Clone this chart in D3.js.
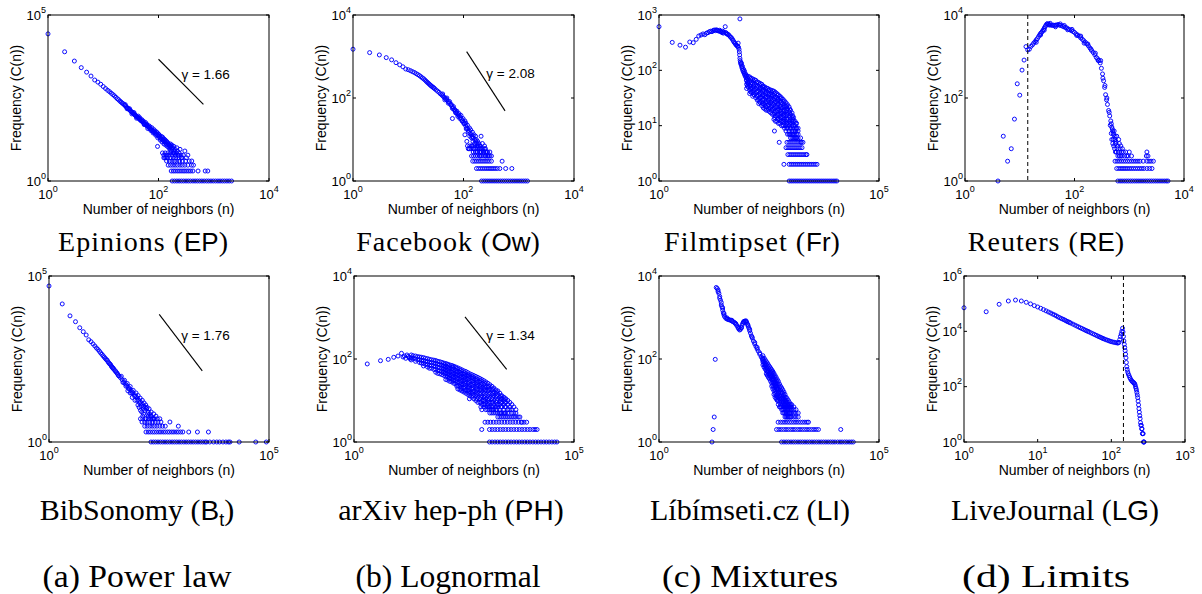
<!DOCTYPE html>
<html><head><meta charset="utf-8">
<script src="https://cdn.jsdelivr.net/npm/d3@7"></script>
<style>body{margin:0;background:#fff} svg{display:block}</style>
</head><body>
<svg id="chart" width="1202" height="594"></svg>
<script>
// ---------------- DATA (n = number of neighbors, C = frequency) ----------------
// Epinions (EP)
const epPts = [[1,27000],[2,7800],[3,4100],[4,2600],[5,1900],[6,1450],[7,1100],[8,950],[9,820],[10,700],[11,610],[12,540],[13,490],[14,440],[15,400],[16,365],[17,330],[18,300],[19,280],[20,255],[21,240],[22,222],[23,212],[24,196],[25,185],[26,172],[27,162],[28,154],[29,146],[30,138],[31,131],[32,124],[33,119],[34,113],[35,108],[36,104],[37,100],[38,95],[39,92],[40,88],[41,86],[42,82],[43,80],[44,77],[45,74],[46,72],[47,69],[48,67],[49,65],[50,63],[52,60],[54,56],[56,53],[58,51],[60,48],[62,46],[64,44],[66,42],[68,40],[70,38],[72,37],[75,35],[78,33],[81,31],[84,29],[87,28],[90,26],[94,25],[98,23],[102,22],[106,20],[110,19],[115,18],[120,17],[125,16],[130,15],[135,14],[140,13],[150,12],[160,11],[170,10],
[25,200],[27,150],[30,150],[33,105],[36,115],[40,78],[43,90],[46,80],[50,70],[53,64],[55,50],[58,58],[61,52],[64,38],[67,46],[70,43],[73,33],[76,40],[80,28],[83,35],[86,32],[89,24],[92,30],[95,28],[97,20],[100,26],[104,24],[108,17],[112,22],[116,15],[118,21],[122,19],[126,13],[128,18],[132,17],[136,12],[138,16],[142,15],[145,11],[148,14],[152,13],[155,10],[158,12],[162,9],[165,13],[168,11],[172,8],[175,12],[178,9],[182,10],[186,7],[190,11],[195,8],[200,9],[205,6],[210,7],[215,10],[220,8],[228,6],[235,7],[245,9],[255,6],[265,5],[280,6],[300,8],[320,5],[340,6],[360,4],[96,11],[125,5],[137,5],[400,4],[430,3]];
const epRows = [
  {c:1, n:[177,195,215,236,260,286,315,346,380,420,460,505,555,610,670,740,810,890,980,1080,1190,1300,1430,1570,1730,1900,2100]},
  {c:2, n:[170,185,200,218,236,256,278,300,326,354,384,420,520,700,780]},
  {c:3, n:[150,165,182,200,220,245,270,300,340,395]},
  {c:4, n:[140,158,175,195,215,240,270,310]},
  {c:5, n:[130,145,165,185,205,235,260]},
  {c:6, n:[125,140,155,175,200,225]},
  {c:7, n:[118,132,148,165,190]}
];
// Facebook (Ow)
const owPts = [[1,1500],[2,1240],[3,1090],[4,940],[5,830],[6,710],[7,630],[8,565],[9,500],[10,480],[11,455],[12,430],[13,410],[14,385],[15,365],[16,345],[17,325],[18,305],[19,290],[20,272],[21,255],[22,240],[23,228],[24,216],[25,205],[26,196],[27,188],[28,182],[29,175],[30,168],[32,156],[34,146],[36,137],[38,127],[40,120],[42,113],[44,106],[46,100],[48,95],[50,90],[53,82],[56,75],[59,68],[62,62],[65,57],[68,52],[71,48],[74,45],[77,42],[80,39],[84,37],[88,34],[92,31],[96,28],[100,26],[105,24],[110,21],[115,19],[120,18],[126,16],[132,14],[138,13],[144,12],[150,11],[158,10],[166,9],[175,8],[185,7],[195,6],[205,5],
[42,125],[46,90],[50,100],[53,75],[56,82],[60,70],[63,56],[66,62],[70,52],[72,44],[76,48],[79,36],[83,42],[86,32],[90,38],[94,28],[98,32],[102,24],[106,28],[110,25],[112,18],[118,22],[122,15],[128,19],[130,12],[135,17],[140,11],[145,15],[148,9],[155,13],[160,8],[165,12],[170,10],[180,9],[190,8],[200,7],[210,6],[220,8],[230,5],[240,6],[260,5],[280,4],[300,5],[320,4],[63,32],[106,13],[127,6],[208,12],[115,9],[140,7],[155,6],[175,5],[200,4],[250,4]];
const owRows = [
  {c:1, n:[212,232,253,276,301,328,358,390,425,464,506,552,602,656,716,781,852,930,1015,1107,1208,1318,1440]},
  {c:2, n:[172,188,205,223,243,265,289,315,343,374,408,455,580,750]},
  {c:3, n:[147,160,174,190,207,225,245,267,291,320,500]},
  {c:4, n:[140,152,166,181,197,215,234,255,278,300]},
  {c:5, n:[150,164,179,195,212,231,252,275]},
  {c:6, n:[122,136,150,166,183,202,224,250]},
  {c:7, n:[118,130,145,160,178,198,240]}
];
// Filmtipset (Fr)
const frPts = [[1,615],[2,320],[3,285],[4,262],[5,325],[6,316],[7,363],[8,417],[9,435],[10,455],[11,440],[12,470],[13,480],[14,500],[15,510],[16,500],[17,525],[18,535],[19,520],[20,540],[21,530],[22,520],[23,510],[24,530],[25,505],[26,500],[27,480],[28,510],[29,470],[30,490],[32,615],[33,480],[34,470],[35,455],[36,450],[38,440],[40,420],[42,400],[44,390],[46,370],[48,350],[50,330],[52,315],[54,305],[56,290],[58,285],[60,275],[62,270],[63,310],[64,260],[66,240],[67,215],[68,190],[69,850],[69,165],[70,150],[71,140],[72,132],[74,125],[76,115],[78,108],[80,100],[83,94],[86,88],[89,82],[92,78],[95,74],[420,8],[540,5],[235,49],[1650,6],[1700,5],
[75,135],[79,118],[84,104],[88,96],[93,86],[97,66],[102,60],[108,57],[120,52]];
const frCols = [[98,[80,67,56,47]],[106,[78,62,50]],[115,[76,63,52,44,38]],[125,[72,60,48,40]],[135,[70,58,48,40,34]],[146,[68,56,45,36]],[158,[66,55,46,38,32]],[171,[62,52,42,34,29]],[185,[60,50,42,35,29,25]],[200,[58,48,40,32,26]],[217,[56,47,39,33,27,23]],[235,[52,44,36,30,25,21]],[254,[50,42,35,29,24,20]],[275,[48,40,33,27,22,19]],[298,[47,39,33,27,23,19]],[322,[45,38,31,26,21,18]],[349,[44,37,31,26,21,17]],[378,[43,36,30,25,20,16]],[409,[42,35,29,24,20,16,13]],[443,[40,33,27,22,18,15,12]],[479,[38,32,27,22,18,15,12]],[518,[36,30,25,20,16,13,11]],[561,[34,28,23,19,16,13,11]],[607,[32,26,21,17,14,12,10]],[657,[30,25,21,17,14,12,10]],[711,[28,23,19,16,13,11,9]],[770,[26,22,18,15,12,10,8]],[833,[24,20,16,13,11,9,7]],[902,[22,18,15,12,10,8,7]],[976,[19,16,13,11,9,7,6]],[1057,[17,14,12,10,8,7,6]],[1144,[14,12,10,8,7,6]],[1238,[12,10,8,7,6]],[1340,[11,9,7,6]],[1450,[9,8,7,6]],
[102,[73,61,52]],[120,[70,57,47,41]],[140,[64,52,43,37]],[165,[60,50,41,35]],[192,[55,45,38,31,27]],[226,[51,42,36,29,25]],[264,[46,38,32,26,22]],[310,[43,36,29,24,20]],[363,[40,34,28,23,19]],[426,[38,31,26,21,17,14]],[498,[35,29,24,19,16,13]],[583,[31,26,21,17,14,12]],[684,[27,22,18,15,12,10]],[801,[23,19,16,13,11,9]],[938,[20,17,14,11,9,7]],[1100,[15,13,11,9,7]],[1290,[11,9,8,6]]];
const frRows = [
  {c:1, n:[910,1010,1120,1245,1380,1530,1700,1890,2100,2330,2590,2870,3190,3540,3930,4360,4840,5370,5960,6620,7350,8160,9060,10000,11000]},
  {c:2, n:[690,910,1010,1120,1245,1380,1530,1700,1890,2100,2330,2590,2870,3190,3540,3900]},
  {c:3, n:[850,945,1050,1165,1295,1440,1600,1775,1970,2190,2300]},
  {c:4, n:[770,855,950,1055,1170,1300,1445,1605,1780]},
  {c:5, n:[810,900,1000,1110,1230,1370,1520,1690,1870]}
];
// Reuters (RE)
const rePts = [[4,1],[5,12],[6,3],[7,6],[8,31],[9,220],[10,117],[11,470],[12,820],[13,1730],[14,1440],[15,1500],[16,1750],[17,1900],[18,2100],[19,2280],[20,2500],[21,2700],[22,3000],[23,3300],[24,3600],[25,3800],[26,4100],[27,4400],[28,4800],[29,5200],[30,5600],[31,6000],[32,6200],[33,6000],[34,5900],[35,5700],[37,5800],[39,5600],[41,5700],[43,5600],[45,5700],[47,5700],[50,5900],[53,5700],[56,5600],[60,5400],[64,5200],[68,5000],[72,4900],[77,4600],[82,4400],[88,4200],[94,4000],[100,3800],[107,3500],[114,3300],[122,3100],[130,2800],[139,2600],[148,2400],[158,2200],[168,2000],[180,1800],[192,1600],[205,1400],[220,1250],[235,1100],[250,950],[265,880],[280,800],[295,700],[310,520],[325,380],[340,260],[355,180],[370,120],[385,90],[400,70],[420,50],[440,37],[460,28],[480,20],[500,16],[520,13],[545,10],[570,8],[600,6],[630,5],
[20,2200],[24,3300],[28,4300],[36,6300],[45,5200],[55,6100],[65,5600],[75,4400],[90,4500],[110,3200],[130,3100],[150,2100],[175,2000],[200,1500],[240,1200],[270,800],[300,800],[330,300],[360,200],[390,100],[430,45],[470,24],[510,14],[560,8],
[450,22],[470,14],[490,18],[510,10],[530,16],[550,12],[570,9],[590,12],[610,7],[640,10],[660,8],[680,6],[700,7],[720,5],[750,6],[780,5],[820,4],[860,5],[900,4],[950,4],[1000,5],[1100,4],[500,8],[540,6],[580,5],[620,4],[660,4],[700,4],[740,4],[480,10],[520,7],[560,5],[2050,4],[2100,5],[2200,4]];
const reRows = [
  {c:1, n:[620,680,740,810,885,965,1055,1150,1260,1375,1500,1640,1790,1960,2140,2340,2550,2790,3050,3330,3640,3970,4340,4740,5100]},
  {c:2, n:[590,645,705,770,840,915,1000,1090,1190,1300,1420,1550,1690,1850,2100,2350,2600]},
  {c:3, n:[550,600,655,715,780,850,930,1015,1110,1210,1320,1440,1570,1800,2100,2300,2500,2760]}
];
// BibSonomy (Bt)
const btPts = [[1,50000],[2,14400],[3,6300],[4,4200],[5,2760],[6,2100],[7,1670],[8,1200],[9,1050],[10,900],[11,780],[12,680],[13,610],[14,540],[15,480],[16,435],[17,395],[18,360],[19,330],[20,305],[22,260],[24,225],[26,195],[28,172],[30,152],[33,130],[36,112],[39,98],[42,87],[46,75],[50,65],[54,57],[58,51],[63,45],[68,40],[74,35],[80,31],[87,27],[94,24],[102,21],[110,18],[120,16],[130,14],[140,12],[152,11],[165,10],[180,8],[195,7],[212,6],[230,5],
[21,290],[23,240],[25,215],[27,180],[29,165],[32,140],[35,120],[38,100],[44,95],[48,62],[52,72],[56,48],[60,58],[65,40],[70,47],[76,30],[82,36],[88,24],[95,30],[100,18],[106,25],[114,15],[118,21],[125,12],[132,18],[138,10],[145,15],[150,9],[158,13],[170,11],[175,7],[188,10],[200,6],[210,8],[220,5],[240,7],[250,5],[270,6],[290,5],[330,5],[560,4],[870,3],[180,6],[160,5],[140,7],[120,9],[105,13],[90,18],[78,22],[70,30],[62,35],[112,11],[128,8],[135,6]];
const btRows = [
  {c:1, n:[208,235,265,300,340,385,435,490,555,630,710,800,905,1020,1160,1310,1480,1680,1900,2150,2430,2750,3100,3500,3800,4500,5500,6500,7500,9000,10500,12000,13000,21000,50000,87000]},
  {c:2, n:[160,180,200,225,250,280,315,350,395,440,495,550,620,690,780,870,980,1100,1500,2360,4200]},
  {c:3, n:[150,170,195,220,250,285,330,380,440]},
  {c:4, n:[130,150,170,195,225,260,300,350]},
  {c:5, n:[120,135,155,180,205,240]}
];
// arXiv hep-ph (PH)
const phPts = [[2,76],[4,91],[6,98],[8,110],[10,118],[12,137],[13,112],[14,118],[15,104],[16,125],[17,115],[18,108],[19,100],[420,11],[800,2],[5400,4],[5900,4],[6500,3]];
const phCols = [[20,[125,108,95]],[22,[120,104]],[25,[118,100,88]],[28,[114,96]],[31,[112,96,82]],[34,[110,92,80]],[38,[108,92,78,68]],[42,[104,88,74]],[47,[102,86,74,64]],[52,[98,84,70,60]],[58,[96,82,70,60]],[65,[94,80,68,56]],[72,[92,78,66,56,48]],[80,[88,75,63,52,45]],[89,[86,73,62,52,44]],[99,[83,70,59,50,42]],[110,[80,68,57,48,40]],[122,[78,66,55,46,38,32]],[135,[75,63,53,44,37,31]],[150,[72,60,50,42,35,29]],[167,[70,58,48,40,33,28]],[185,[67,56,46,38,31,26]],[206,[64,53,44,37,30,25]],[229,[61,50,42,35,28,23,19]],[254,[58,48,40,33,27,22,18]],[282,[55,45,38,31,25,21,17]],[313,[52,43,36,30,24,20,16]],[348,[50,41,34,28,23,18,15]],[386,[47,39,32,26,21,17,14]],[429,[44,37,30,24,20,16,13]],[476,[42,35,29,23,19,15,12]],[529,[40,33,27,22,17,14,11]],[587,[38,31,25,20,16,13,10]],[652,[36,29,24,19,15,12,9]],[724,[34,28,22,18,14,11,9]],[804,[32,26,21,17,13,10,8,6]],[893,[30,24,19,15,12,10,8,7]],[992,[28,22,18,14,11,9,7,6]],[1101,[26,21,17,13,10,8,7,6]],[1223,[24,19,15,12,9,7,6,5]],[1358,[22,18,14,11,9,7,6,5]],[1508,[20,16,13,10,8,6,5]],[1675,[18,15,12,9,7,6,5]],[1860,[17,14,11,8,7,5,4]],[2066,[15,12,10,8,6,5,4]],[2294,[13,11,9,7,5,4]],[2548,[12,10,8,6,5,4]],[2830,[11,9,7,5,4]],[3142,[10,8,6,5,4]],[3490,[9,7,6,4]],[3875,[8,6,5,4]],[4300,[7,5,4]],[4779,[6,5,4]],
[115,[73,62,52,44]],[142,[68,57,47,40,34]],[176,[63,52,43,36,30]],[217,[58,48,40,33,27,22]],[268,[52,43,36,29,24,19]],[330,[46,38,32,26,21,17]],[407,[41,34,28,22,18,15]],[502,[37,30,25,20,16,13]],[619,[33,27,22,18,14,11]],[764,[30,24,19,15,12,9,7]],[942,[26,21,17,13,10,8]],[1160,[22,18,14,11,9,7]],[1430,[19,15,12,9,7,6]],[1760,[16,13,10,8,6]],[2170,[13,11,9,7,5]],[2680,[11,9,7,5]]];
const phRows = [
  {c:1, n:[1200,1380,1590,1830,2110,2430,2800,3230,3720,4290,4950,5700,6570,7570,8730,10000,11600,13400,15400,17800,20500,23600,27200,31400,36200,41000]},
  {c:2, n:[1200,1380,1590,1830,2110,2430,2800,3230,3720,4290,4950,5700,6570,7570,8730,10000,11600,13000,14500]},
  {c:3, n:[950,1100,1270,1470,1700,1970,2280,2640,3050,3530,4080,4720,5460,6320,7300,8400]}
];
// Líbímseti.cz (LI)
const liPts = [[16,1],[17,2],[18,4],[19,98],[20,5300],[21,5000],[22,4200],[23,3800],[24,2900],[25,2600],[26,2000],[27,1800],[28,1500],[29,1300],[30,1150],[31,1050],[33,960],[35,920],[37,900],[39,880],[41,870],[44,840],[47,800],[50,780],[53,740],[56,690],[59,640],[62,580],[65,530],[68,500],[71,520],[74,580],[77,650],[80,720],[83,780],[86,810],[90,820],[94,800],[98,770],[102,700],[106,620],[110,560],[115,480],[120,420],[126,360],[132,320],[140,270],[150,230],[160,200],[170,175],[180,155],[195,130],[210,112],[225,96],[240,84],[260,70],[280,60],[300,52],[325,44],[350,38],[380,32],[410,27],[445,22],[480,19],[520,16],[560,13],[610,11],[660,9],[720,8],[780,7],[850,6],[920,5],
[22,4600],[24,3200],[26,2300],[28,1700],[30,1250],[35,980],[45,860],[55,720],[65,560],[75,560],[85,760],[95,830],[105,660],[115,520],[130,340],[150,250],[170,190],[195,140],[225,105],[260,78]];
const liCols = [[230,[120,100,85,72]],[260,[95,80,68,57]],[290,[80,68,57,48,40]],[325,[66,56,47,39,33]],[365,[55,46,38,32,26,22]],[410,[45,37,31,26,21,17,14]],[460,[36,30,25,20,16,13,11]],[515,[29,24,19,15,12,10,8]],[580,[22,18,15,12,10,8,7]],[650,[18,15,12,10,8,6,5]],[730,[14,12,10,8,7,6,5,4]],[820,[11,9,8,7,6,5,4]],[920,[9,8,7,6,5,4]],[1030,[8,7,6,5,4]],[1160,[7,6,5,4]],[1300,[6,5,4]],[1460,[5,4]],
[245,[105,88,74,63]],[275,[86,73,62,52,44]],[307,[72,61,51,43,36]],[345,[60,50,42,35,29]],[387,[50,41,34,28,23,19]],[435,[40,33,28,23,18,15,12]],[487,[32,27,22,18,14,12,10]],[547,[25,21,17,13,11,9,7]],[615,[20,16,13,11,9,7,6]],[690,[16,13,11,9,7,6,5]],[775,[12,10,9,7,6,5,4]],[870,[10,8,7,6,5,4]],[975,[8,7,6,5,4]]];
const liRows = [
  {c:1, n:[610,690,780,880,1000,1130,1270,1440,1620,1830,2070,2340,2640,2990,3370,3810,4300,4860,5490,6200,7000,7900,8900,10000,11500,13000,14500,16500,18500,21000,23500,26000]},
  {c:2, n:[470,530,600,680,770,870,985,1110,1250,1420,1600,1810,2040,2300,2600,2940,3320,3750,4200,13500]},
  {c:3, n:[510,580,650,730,820,920,1030,1160,1300,1460,1640,1840,2070,2320,2500]}
];
// LiveJournal (LG)
const lgPts = [[1,71000],[2,51000],[3,95000],[4,125000],[5,135000],[6,125000],[7,112000],[8,98000],[9,85000],[10,76000],[11,68000],[12,61000],[13,55000],[14,50000],[15,46000],[16,42000],[17,39000],[18,36000],[19,33000],[20,31000],[21,29000],[22,27500],[23,26000],[24,24500],[25,23000],[26,22000],[27,21000],[28,20000],[30,18300],[32,16800],[34,15500],[36,14400],[38,13400],[40,12600],[42,11800],[44,11100],[46,10500],[48,10000],[50,9500],[53,8800],[56,8200],[59,7700],[62,7200],[65,6800],[68,6400],[71,6100],[74,5800],[77,5500],[80,5300],[84,5000],[88,4800],[92,4600],[96,4400],[100,4250],[105,4100],[110,4000],[115,3900],[120,3800],[124,3800],[127,4000],[130,5000],[133,6500],[136,8000],[139,10000],[142,12900],[144,9500],[146,6500],[148,4500],[150,3400],[152,2600],[154,2000],[156,1500],[158,1100],[160,750],[162,530],[164,420],[167,340],[170,290],[174,250],[178,215],[182,190],[187,170],[192,155],[197,145],[202,138],[206,130],[210,118],[213,100],[216,88],[219,76],[222,62],[225,50],[228,40],[231,30],[234,22],[237,16],[240,12],[243,9],[246,7],[249,5],[252,4],[255,4],[258,3],[261,3],[264,2],[267,2],[270,2],[273,1],[276,1],[278,1]];

// Reference slopes and limits
const gammaLines = [
  {panel:'EP', n:[100,650], c:[4650,204], label:'γ = 1.66'},
  {panel:'Ow', n:[114,565], c:[1310,49], label:'γ = 2.08'},
  {panel:'Bt', n:[320,3040], c:[7000,138], label:'γ = 1.76'},
  {panel:'PH', n:[333,2950], c:[1040,56], label:'γ = 1.34'}
];
const dashLimits = [{panel:'RE', n:14}, {panel:'LG', n:146}];

// Tick values
const ticks4 = [1,1e2,1e4];
const ticks5 = [1,1e5];
const ticks5y = [1,1e5];
const frYTicks = [1,10,100,1000];
const lgXTicks = [1,10,100,1000];
const lgYTicks = [1,1e2,1e4,1e6];

// Captions
const captions1 = [{t:'Epinions', c:'EP'},{t:'Facebook', c:'Ow'},{t:'Filmtipset', c:'Fr'},{t:'Reuters', c:'RE'}];
const captions2 = [{t:'BibSonomy', c:'B', sub:'t'},{t:'arXiv hep-ph', c:'PH'},{t:'Líbímseti.cz', c:'LI'},{t:'LiveJournal', c:'LG'}];
const subCaptions = ['(a) Power law','(b) Lognormal','(c) Mixtures','(d) Limits'];

// ---------------- DRAWING ----------------
const svg = d3.select('#chart');
svg.append('rect').attr('width',1202).attr('height',594).attr('fill','#fff');

const panels = [
  {key:'EP', pts:epPts, rows:epRows, cols:[], box:[48,15,269,181], xDom:[1,1e4], yDom:[1,1e5], xT:ticks4, yT:ticks5y},
  {key:'Ow', pts:owPts, rows:owRows, cols:[], box:[353,15,574,181], xDom:[1,1e4], yDom:[1,1e4], xT:ticks4, yT:ticks4},
  {key:'Fr', pts:frPts, rows:frRows, cols:frCols, box:[659,15,879,181], xDom:[1,1e5], yDom:[1,1e3], xT:ticks5, yT:frYTicks},
  {key:'RE', pts:rePts, rows:reRows, cols:[], box:[965,15,1184,181], xDom:[1,1e4], yDom:[1,1e4], xT:ticks4, yT:ticks4},
  {key:'Bt', pts:btPts, rows:btRows, cols:[], box:[49,276,269,442], xDom:[1,1e5], yDom:[1,1e5], xT:ticks5, yT:ticks5y},
  {key:'PH', pts:phPts, rows:phRows, cols:phCols, box:[354,276,574,442], xDom:[1,1e5], yDom:[1,1e4], xT:ticks5, yT:ticks4},
  {key:'LI', pts:liPts, rows:liRows, cols:liCols, box:[659,276,879,442], xDom:[1,1e5], yDom:[1,1e4], xT:ticks5, yT:ticks4},
  {key:'LG', pts:lgPts, rows:[], cols:[], box:[964,276,1185,442], xDom:[1,1e3], yDom:[1,1e6], xT:lgXTicks, yT:lgYTicks}
];

const SANS = "'Liberation Sans', Arial, Helvetica, sans-serif";
const SERIF = "'Liberation Serif', 'Times New Roman', serif";
const BLUE = '#0000ff';

function powLabel(g, x, y, v, anchor){
  const e = Math.round(Math.log10(v));
  const t = g.append('text').attr('x',x).attr('y',y).attr('text-anchor',anchor)
    .attr('font-family',SANS).attr('font-size',13).attr('fill','#000');
  t.append('tspan').text('10');
  t.append('tspan').attr('dy',-7).attr('font-size',9).text(e);
}

panels.forEach(p => {
  const [x0,y0,x1,y1] = p.box;
  const x = d3.scaleLog().domain(p.xDom).range([x0,x1]);
  const y = d3.scaleLog().domain(p.yDom).range([y1,y0]);
  const g = svg.append('g');

  const data = p.pts.map(d => ({n:d[0], c:d[1]}));
  p.cols.forEach(col => col[1].forEach(c => data.push({n:col[0], c})));
  p.rows.forEach(r => r.n.forEach(n => data.push({n, c:r.c})));

  g.append('g').selectAll('circle').data(data).join('circle')
    .attr('cx', d => x(d.n)).attr('cy', d => y(d.c)).attr('r', 2)
    .attr('fill','none').attr('stroke',BLUE).attr('stroke-width',0.95);

  g.append('rect').attr('x',x0).attr('y',y0).attr('width',x1-x0).attr('height',y1-y0)
    .attr('fill','none').attr('stroke','#000').attr('stroke-width',1);

  const tl = 3;
  p.xT.forEach(v => {
    const xx = x(v);
    g.append('line').attr('x1',xx).attr('x2',xx).attr('y1',y1).attr('y2',y1-tl).attr('stroke','#000');
    g.append('line').attr('x1',xx).attr('x2',xx).attr('y1',y0).attr('y2',y0+tl).attr('stroke','#000');
    powLabel(g, xx, y1+17.5, v, 'middle');
  });
  p.yT.forEach(v => {
    const yy = y(v);
    g.append('line').attr('x1',x0).attr('x2',x0+tl).attr('y1',yy).attr('y2',yy).attr('stroke','#000');
    g.append('line').attr('x1',x1).attr('x2',x1-tl).attr('y1',yy).attr('y2',yy).attr('stroke','#000');
    powLabel(g, x0-2, yy+4.5, v, 'end');
  });

  g.append('text').attr('x',(x0+x1)/2).attr('y',y1+33).attr('text-anchor','middle')
    .attr('font-family',SANS).attr('font-size',14).text('Number of neighbors (n)');
  g.append('text').attr('transform',`translate(${x0-27.5},${(y0+y1)/2}) rotate(-90)`)
    .attr('text-anchor','middle').attr('font-family',SANS).attr('font-size',14).text('Frequency (C(n))');

  gammaLines.filter(gl => gl.panel===p.key).forEach(gl => {
    const ax = x(gl.n[0]), ay = y(gl.c[0]), bx = x(gl.n[1]), by = y(gl.c[1]);
    g.append('line').attr('x1',ax).attr('y1',ay).attr('x2',bx).attr('y2',by)
      .attr('stroke','#000').attr('stroke-width',1.1);
    g.append('text').attr('x',(ax+bx)/2+0.5).attr('y',(ay+by)/2-3)
      .attr('font-family',SANS).attr('font-size',13.5).text(gl.label);
  });
  dashLimits.filter(dl => dl.panel===p.key).forEach(dl => {
    g.append('line').attr('x1',x(dl.n)).attr('x2',x(dl.n)).attr('y1',y0).attr('y2',y1)
      .attr('stroke','#000').attr('stroke-width',1).attr('stroke-dasharray','4,3');
  });
});

function caption(cx, by, cap, fs, ls){
  const t = svg.append('text').attr('x',cx).attr('y',by).attr('text-anchor','middle')
    .attr('font-family',SERIF).attr('font-size',fs).attr('fill','#000');
  t.append('tspan').attr('letter-spacing', ls).text(cap.t + ' (');
  t.append('tspan').attr('font-family',SANS).attr('font-size',fs-2).text(cap.c);
  if (cap.sub) t.append('tspan').attr('font-family',SANS).attr('font-size',fs*0.6).attr('dy',6).text(cap.sub);
  t.append('tspan').attr('dy', cap.sub ? -6 : 0).text(')');
}
const capX1 = [143, 448, 752, 1046];
const capX2 = [137, 451, 750, 1055];
const subX = [137, 448, 750, 1046];
const subW = [189, 185, 176, 168];
captions1.forEach((c,i) => caption(capX1[i], 251, c, 28, 1));
captions2.forEach((c,i) => caption(capX2[i], 520, c, 30, 0));
subCaptions.forEach((s,i) => {
  svg.append('text').attr('x',subX[i]).attr('y',587).attr('text-anchor','middle')
    .attr('font-family',SERIF).attr('font-size',32)
    .attr('textLength',subW[i]).attr('lengthAdjust','spacingAndGlyphs').text(s);
});
</script>
</body></html>
